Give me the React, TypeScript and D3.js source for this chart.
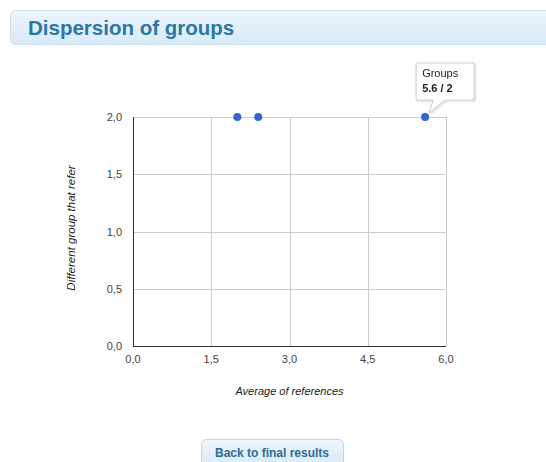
import { useEffect, useRef } from 'react'
import * as d3 from 'd3'

// chart data
const seriesName = 'Groups'
const avgReferences = [2.0, 2.4, 5.6]
const differentGroups = [2, 2, 2]
const xTicks = [0, 1.5, 3, 4.5, 6]
const yTicks = [0, 0.5, 1, 1.5, 2]
const tooltipIndex = 2

const fmt = (v: number) => v.toFixed(1).replace('.', ',')

export default function App() {
  const svgRef = useRef<SVGSVGElement>(null)

  useEffect(() => {
    if (!svgRef.current) return
    const svg = d3.select(svgRef.current)
    svg.selectAll('*').remove()

    const font = 'Arial, "Liberation Sans", sans-serif'
    const defs = svg.append('defs')

    const hg = defs.append('linearGradient').attr('id', 'hdr').attr('x1', 0).attr('y1', 0).attr('x2', 0).attr('y2', 1)
    hg.append('stop').attr('offset', '0%').attr('stop-color', '#eaf4fb')
    hg.append('stop').attr('offset', '100%').attr('stop-color', '#d9ebf8')

    const bg = defs.append('linearGradient').attr('id', 'btn').attr('x1', 0).attr('y1', 0).attr('x2', 0).attr('y2', 1)
    bg.append('stop').attr('offset', '0%').attr('stop-color', '#eef6fc')
    bg.append('stop').attr('offset', '100%').attr('stop-color', '#d6e8f6')

    const shadow = defs.append('filter').attr('id', 'shadow').attr('x', '-20%').attr('y', '-20%').attr('width', '150%').attr('height', '150%')
    shadow.append('feDropShadow').attr('dx', 1).attr('dy', 1).attr('stdDeviation', 1.2).attr('flood-color', '#000').attr('flood-opacity', 0.15)

    // header panel
    svg.append('rect')
      .attr('x', 10.5).attr('y', 10.5).attr('width', 560).attr('height', 34)
      .attr('rx', 5).attr('fill', 'url(#hdr)').attr('stroke', '#c9deee')
    svg.append('text')
      .attr('x', 28).attr('y', 35)
      .style('font-family', font).style('font-size', '20.5px').style('font-weight', 'bold')
      .style('fill', '#2b78a6')
      .text('Dispersion of groups')

    const left = 133, right = 446, top = 117, bottom = 346

    const x = d3.scaleLinear().domain([0, 6]).range([left, right])
    const y = d3.scaleLinear().domain([0, 2]).range([bottom, top])

    const g = svg.append('g')

    // grid
    g.selectAll('.vgrid').data(xTicks.slice(1)).enter().append('line')
      .attr('x1', d => Math.round(x(d)) + 0.5).attr('x2', d => Math.round(x(d)) + 0.5)
      .attr('y1', top).attr('y2', bottom)
      .attr('stroke', '#cccccc')
    g.selectAll('.hgrid').data(yTicks.slice(1)).enter().append('line')
      .attr('x1', left).attr('x2', right)
      .attr('y1', d => Math.round(y(d)) + 0.5).attr('y2', d => Math.round(y(d)) + 0.5)
      .attr('stroke', '#cccccc')

    // axes baselines
    g.append('line').attr('x1', left + 0.5).attr('x2', left + 0.5).attr('y1', top).attr('y2', bottom + 0.5).attr('stroke', '#333')
    g.append('line').attr('x1', left).attr('x2', right).attr('y1', bottom + 0.5).attr('y2', bottom + 0.5).attr('stroke', '#333')

    // tick labels
    g.selectAll('.ylab').data(yTicks).enter().append('text')
      .attr('x', left - 11).attr('y', d => y(d) + 4)
      .attr('text-anchor', 'end')
      .style('font-family', font).style('font-size', '11px').style('fill', '#444')
      .text(d => fmt(d))
    g.selectAll('.xlab').data(xTicks).enter().append('text')
      .attr('x', d => x(d)).attr('y', bottom + 17)
      .attr('text-anchor', 'middle')
      .style('font-family', font).style('font-size', '11px').style('fill', '#444')
      .text(d => fmt(d))

    // axis titles
    g.append('text')
      .attr('x', (left + right) / 2).attr('y', 395)
      .attr('text-anchor', 'middle')
      .style('font-family', font).style('font-size', '11px').style('font-style', 'italic').style('fill', '#222')
      .text('Average of references')
    g.append('text')
      .attr('transform', `translate(75,228) rotate(-90)`)
      .attr('text-anchor', 'middle')
      .style('font-family', font).style('font-size', '11.5px').style('font-style', 'italic').style('fill', '#222')
      .text('Different group that refer')

    // points
    const pts = avgReferences.map((v, i) => ({ x: v, y: differentGroups[i] }))
    g.selectAll('.pt').data(pts).enter().append('circle')
      .attr('cx', d => x(d.x)).attr('cy', d => y(d.y))
      .attr('r', 4).attr('fill', '#3366cc')

    // tooltip
    const tp = pts[tooltipIndex]
    const px = x(tp.x), py = y(tp.y)
    const bx = px - 9, by = py - 54, bw = 58, bh = 37
    const tip = svg.append('g').attr('filter', 'url(#shadow)')
    tip.append('path')
      .attr('d', `M${bx},${by} H${bx + bw} V${by + bh} H${px + 20} L${px + 4},${py - 4} L${px + 8},${by + bh} H${bx} Z`)
      .attr('fill', '#fff').attr('stroke', '#cccccc')
    tip.append('text')
      .attr('x', bx + 6).attr('y', by + 14)
      .style('font-family', font).style('font-size', '11px').style('fill', '#222')
      .text(seriesName)
    tip.append('text')
      .attr('x', bx + 6).attr('y', by + 29)
      .style('font-family', font).style('font-size', '11px').style('font-weight', 'bold').style('fill', '#222')
      .text(`${tp.x.toFixed(1)} / ${tp.y}`)

    // button
    svg.append('rect')
      .attr('x', 201.5).attr('y', 439.5).attr('width', 142).attr('height', 30)
      .attr('rx', 5).attr('fill', 'url(#btn)').attr('stroke', '#bcd6ea')
    svg.append('text')
      .attr('x', 272).attr('y', 457)
      .attr('text-anchor', 'middle')
      .style('font-family', font).style('font-size', '12px').style('font-weight', 'bold')
      .style('fill', '#2b6d9a')
      .text('Back to final results')
  }, [])

  return (
    <div style={{ position: 'absolute', left: 0, top: 0, width: 546, height: 462, overflow: 'hidden', background: '#fff' }}>
      <svg ref={svgRef} width={546} height={462}></svg>
    </div>
  )
}
